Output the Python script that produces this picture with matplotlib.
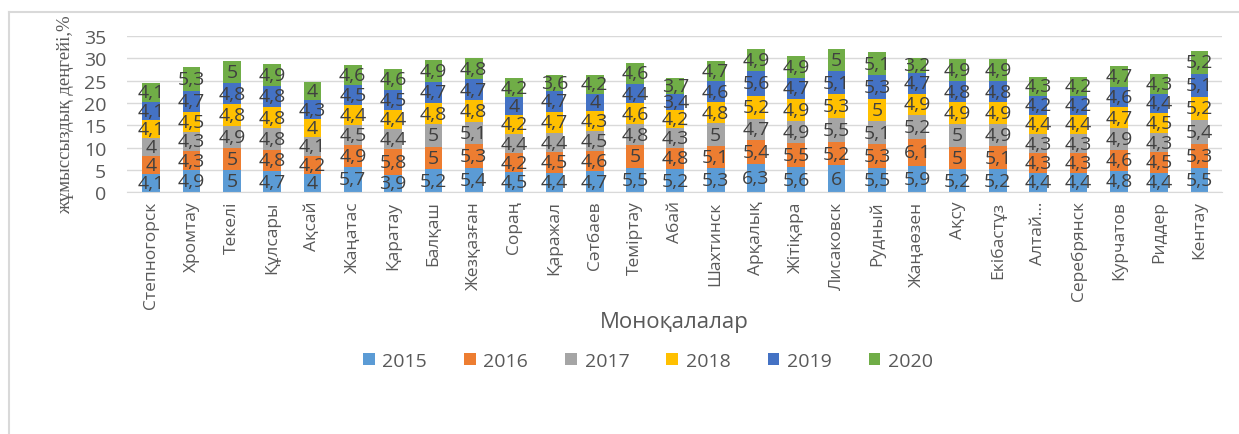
import matplotlib.pyplot as plt
from matplotlib.lines import Line2D
import numpy as np

cities = ['Степногорск', 'Хромтау', 'Текелі', 'Құлсары', 'Ақсай', 'Жаңатас', 'Қаратау',
          'Балқаш', 'Жезқазған', 'Сораң', 'Қаражал', 'Сәтбаев', 'Теміртау', 'Абай',
          'Шахтинск', 'Арқалық', 'Жітіқара', 'Лисаковск', 'Рудный', 'Жаңаөзен', 'Ақсу',
          'Екібастұз', 'Алтай…', 'Серебрянск', 'Курчатов', 'Риддер', 'Кентау']
years = ['2015', '2016', '2017', '2018', '2019', '2020']

y2015 = [4.1, 4.9, 5, 4.7, 4, 5.7, 3.9, 5.2, 5.4, 4.5, 4.4, 4.7, 5.5, 5.2, 5.3, 6.3, 5.6, 6, 5.5, 5.9, 5.2, 5.2, 4.4, 4.4, 4.8, 4.4, 5.5]
y2016 = [4, 4.3, 5, 4.8, 4.2, 4.9, 5.8, 5, 5.3, 4.2, 4.5, 4.6, 5, 4.8, 5.1, 5.4, 5.5, 5.2, 5.3, 6.1, 5, 5.1, 4.3, 4.3, 4.6, 4.5, 5.3]
y2017 = [4, 4.3, 4.9, 4.8, 4.1, 4.5, 4.4, 5, 5.1, 4.4, 4.4, 4.5, 4.8, 4.3, 5, 4.7, 4.9, 5.5, 5.1, 5.2, 5, 4.9, 4.3, 4.3, 4.9, 4.3, 5.4]
y2018 = [4.1, 4.5, 4.8, 4.8, 4, 4.4, 4.4, 4.8, 4.8, 4.2, 4.7, 4.3, 4.6, 4.2, 4.8, 5.2, 4.9, 5.3, 5, 4.9, 4.9, 4.9, 4.4, 4.4, 4.7, 4.5, 5.2]
y2019 = [4.1, 4.7, 4.8, 4.8, 4.3, 4.5, 4.5, 4.7, 4.7, 4, 4.7, 4, 4.4, 3.4, 4.6, 5.6, 4.7, 5.1, 5.3, 4.7, 4.8, 4.8, 4.2, 4.2, 4.6, 4.4, 5.1]
y2020 = [4.1, 5.3, 5, 4.9, 4, 4.6, 4.6, 4.9, 4.8, 4.2, 3.6, 4.2, 4.6, 3.7, 4.7, 4.9, 4.9, 5, 5.1, 3.2, 4.9, 4.9, 4.3, 4.2, 4.7, 4.3, 5.2]

series = [y2015, y2016, y2017, y2018, y2019, y2020]
colors = ['#5B9BD5', '#ED7D31', '#A5A5A5', '#FFC000', '#4472C4', '#70AD47']

plt.rcParams['font.family'] = ['Open Sans', 'DejaVu Sans']

fig = plt.figure(figsize=(12.39, 4.35), dpi=100)
ax = fig.add_axes([0.1025, 0.556, 0.8835, 0.359])

# chart area border (top and left edges are visible)
fig.add_artist(Line2D([9 / 1239, 9 / 1239], [0, 1 - 13 / 435], color='#D9D9D9', lw=1.5))
fig.add_artist(Line2D([9 / 1239, 1], [1 - 13 / 435, 1 - 13 / 435], color='#D9D9D9', lw=1.5))

x = np.arange(len(cities))
bottom = np.zeros(len(cities))
for vals, col, yr in zip(series, colors, years):
    vals = np.array(vals)
    bars = ax.bar(x, vals, 0.44, bottom=bottom, color=col, label=yr, zorder=2)
    labels = [('%g' % v).replace('.', ',') for v in vals]
    ax.bar_label(bars, labels=labels, label_type='center', fontsize=14, color='#404040')
    bottom += vals

ax.set_ylim(0, 35)
ax.set_yticks(range(0, 36, 5))
ax.set_xlim(-0.6, len(cities) - 0.45)
ax.yaxis.grid(True, color='#D9D9D9', linewidth=1, zorder=0)
ax.set_axisbelow(True)
for s in ['top', 'right', 'left']:
    ax.spines[s].set_visible(False)
ax.spines['bottom'].set_color('#D9D9D9')
ax.tick_params(axis='both', length=0, colors='#595959')
ax.tick_params(axis='y', labelsize=14, pad=15)
ax.tick_params(axis='x', pad=6)
ax.set_xticks(x)
ax.set_xticklabels(cities, rotation=90, fontsize=12.5)

ax.set_xlabel('Моноқалалар', fontsize=16, color='#595959', labelpad=2)
ax.set_ylabel('жұмыссыздық деңгейі,%', fontsize=13.5, color='#595959',
              fontfamily=['Liberation Serif', 'DejaVu Serif'], labelpad=7)

fig.legend(loc='center', bbox_to_anchor=(0.523, 1 - 362 / 435), ncol=6, frameon=False,
           fontsize=14, handlelength=0.6, handleheight=0.6, columnspacing=1.9,
           handletextpad=0.4, labelcolor='#595959')

fig.savefig('out.png', dpi=100)
